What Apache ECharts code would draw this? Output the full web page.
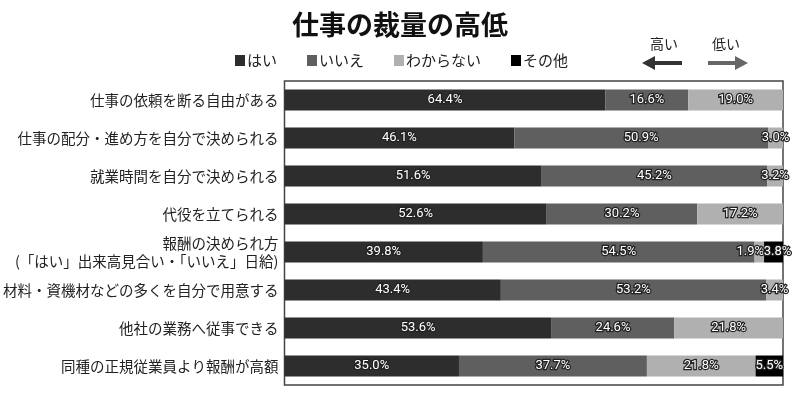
<!DOCTYPE html>
<html>
<head>
<meta charset="utf-8">
<script src="https://cdn.jsdelivr.net/npm/echarts@6/dist/echarts.min.js"></script>
<style>
  html, body { margin: 0; padding: 0; background: #fff; }
  #chart { width: 800px; height: 397px; }
</style>
</head>
<body>
<div id="chart"></div>
<script>
// 項目
const categories = [
  '仕事の依頼を断る自由がある',
  '仕事の配分・進め方を自分で決められる',
  '就業時間を自分で決められる',
  '代役を立てられる',
  '報酬の決められ方\n(「はい」出来高見合い・「いいえ」日給)',
  '材料・資機材などの多くを自分で用意する',
  '他社の業務へ従事できる',
  '同種の正規従業員より報酬が高額'
]

// 回答割合 (%)
const hai = [64.4, 46.1, 51.6, 52.6, 39.8, 43.4, 53.6, 35.0]
const iie = [16.6, 50.9, 45.2, 30.2, 54.5, 53.2, 24.6, 37.7]
const wakaranai = [19.0, 3.0, 3.2, 17.2, 1.9, 3.4, 21.8, 21.8]
const sonota = [0, 0, 0, 0, 3.8, 0, 0, 5.5]

const FONT = '"Noto Sans CJK JP", "Noto Sans", sans-serif'

const myChart = echarts.init(document.getElementById('chart'))

const labelStyle = {
  show: true,
  position: 'inside',
  color: '#fff',
  fontSize: 13,
  fontFamily: 'Roboto, "Noto Sans", sans-serif',
  textBorderColor: '#222',
  textBorderWidth: 2.5,
  formatter: (p) => (p.value > 0 ? p.value.toFixed(1) + '%' : '')
}

// 小さい値のラベルが重なる所だけ少しずらす
const makeSeries = (name, values, color, shift) => ({
  name,
  type: 'bar',
  stack: 'total',
  barWidth: 21,
  itemStyle: { color },
  label: labelStyle,
  data: values.map((v, i) => {
    const item = { value: v }
    if (shift && shift[i]) item.label = { offset: [shift[i], 0] }
    return item
  })
})

const option = {
  backgroundColor: '#fff',
  textStyle: { fontFamily: FONT },
  title: {
    text: '仕事の裁量の高低',
    left: 'center',
    top: 6,
    textStyle: { fontSize: 27, fontWeight: 'bold', color: '#111', fontFamily: FONT }
  },
  legend: {
    left: 230,
    top: 48,
    itemGap: 30,
    itemWidth: 10,
    itemHeight: 11,
    icon: 'rect',
    textStyle: { fontSize: 15, color: '#222', fontFamily: FONT, padding: [0, 0, 0, -3] },
    data: ['はい', 'いいえ', 'わからない', 'その他']
  },
  grid: {
    left: 283,
    top: 81,
    width: 500,
    height: 304,
    show: true,
    borderColor: '#444',
    borderWidth: 1.5
  },
  xAxis: {
    type: 'value',
    min: 0,
    max: 100,
    show: false
  },
  yAxis: {
    type: 'category',
    inverse: true,
    data: categories,
    axisLine: { show: false },
    axisTick: { show: false },
    axisLabel: {
      margin: 6,
      fontSize: 14.5,
      lineHeight: 18,
      color: '#222',
      fontFamily: FONT
    }
  },
  graphic: [
    { type: 'text', left: 650, top: 37, style: { text: '高い', fontSize: 14, fill: '#222', fontFamily: FONT } },
    { type: 'text', left: 712, top: 37, style: { text: '低い', fontSize: 14, fill: '#222', fontFamily: FONT } },
    {
      type: 'polygon',
      shape: { points: [[642, 63], [655, 56], [655, 61], [682, 61], [682, 65], [655, 65], [655, 70]] },
      style: { fill: '#333' }
    },
    {
      type: 'polygon',
      shape: { points: [[748, 63], [735, 56], [735, 61], [708, 61], [708, 65], [735, 65], [735, 70]] },
      style: { fill: '#666' }
    }
  ],
  series: [
    makeSeries('はい', hai, '#2d2d2d'),
    makeSeries('いいえ', iie, '#5f5f5f'),
    makeSeries('わからない', wakaranai, '#b0b0b0', { 4: -9 }),
    makeSeries('その他', sonota, '#000000', { 4: 4 })
  ]
}

myChart.setOption(option)

window.addEventListener('resize', () => {
  myChart.resize()
})
</script>
</body>
</html>
